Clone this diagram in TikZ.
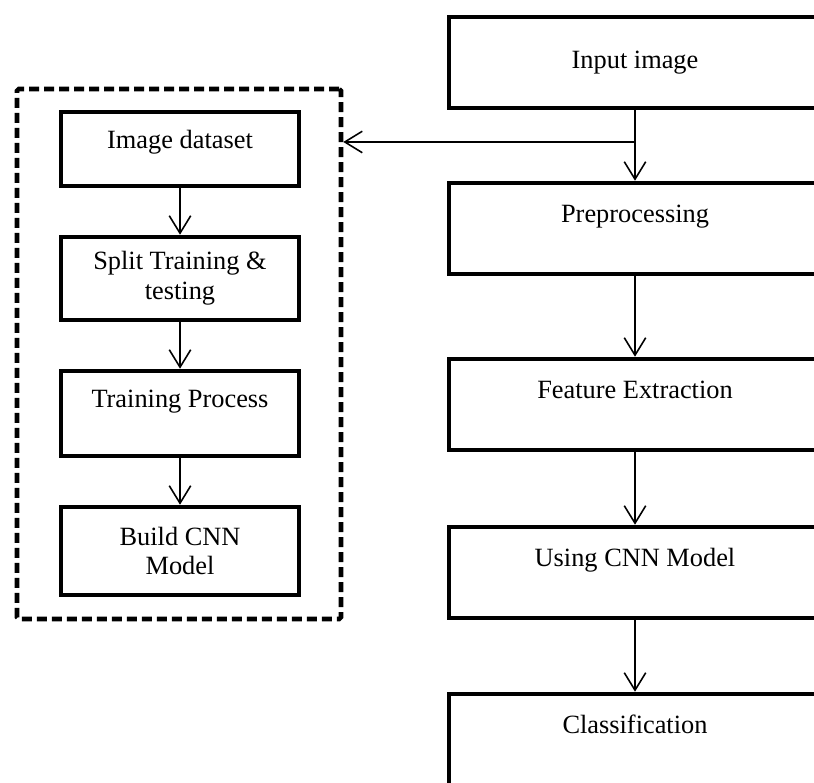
\documentclass[tikz,border=0pt]{standalone}
\usepackage{fontspec}
\setmainfont{Liberation Serif}
\usepackage{tikz}
\usetikzlibrary{shapes,arrows.meta,positioning,calc}

\begin{document}
\begin{tikzpicture}[
    box/.style={rectangle, draw=black, line width=2.6pt, align=center, inner sep=2pt,
        font=\fontsize{15pt}{17pt}\selectfont},
    bigbox/.style={box, minimum width=7.44cm, minimum height=1.82cm},
    smallbox/.style={box, minimum width=4.76cm},
    group/.style={rectangle, draw=black, line width=2.6pt, dash pattern=on 0.2cm off 0.1cm,
        rounded corners=1pt},
    arrow/.style={-{Straight Barb[length=3.5mm,width=4.3mm]}, line width=0.9pt}
]
\useasboundingbox (0,0) rectangle (16.28,-15.64);

% main pipeline
\node[bigbox] (input) at (12.7,-1.25) {Input image};
\node[bigbox] (prep) at (12.7,-4.57) {Preprocessing\\ ~};
\node[bigbox] (feat) at (12.7,-8.09) {Feature Extraction\\ ~};
\node[bigbox] (cnn) at (12.7,-11.45) {Using CNN Model\\ ~};
\node[bigbox] (class) at (12.7,-14.79) {Classification\\ ~};

% training part
\node[group, minimum width=6.48cm, minimum height=10.6cm] (train) at (3.58,-7.08) {};
\node[smallbox, minimum height=1.48cm] (data) at (3.6,-2.98) {Image dataset\\[-6pt] ~};
\node[smallbox, minimum height=1.66cm] (split) at (3.6,-5.57) {Split Training \&\\ testing};
\node[smallbox, minimum height=1.70cm] (proc) at (3.6,-8.27) {Training Process\\ ~};
\node[smallbox, minimum height=1.76cm] (build) at (3.6,-11.02) {Build CNN\\ Model};

\coordinate (fork) at ($(input.south)!0.45!(prep.north)$);

\draw[arrow] (input) -- (prep);
\draw[arrow] (fork) -- (fork -| train.east);
\draw[arrow] (prep) -- (feat);
\draw[arrow] (feat) -- (cnn);
\draw[arrow] (cnn) -- (class);

\draw[arrow] (data) -- (split);
\draw[arrow] (split) -- (proc);
\draw[arrow] (proc) -- (build);

\end{tikzpicture}
\end{document}
